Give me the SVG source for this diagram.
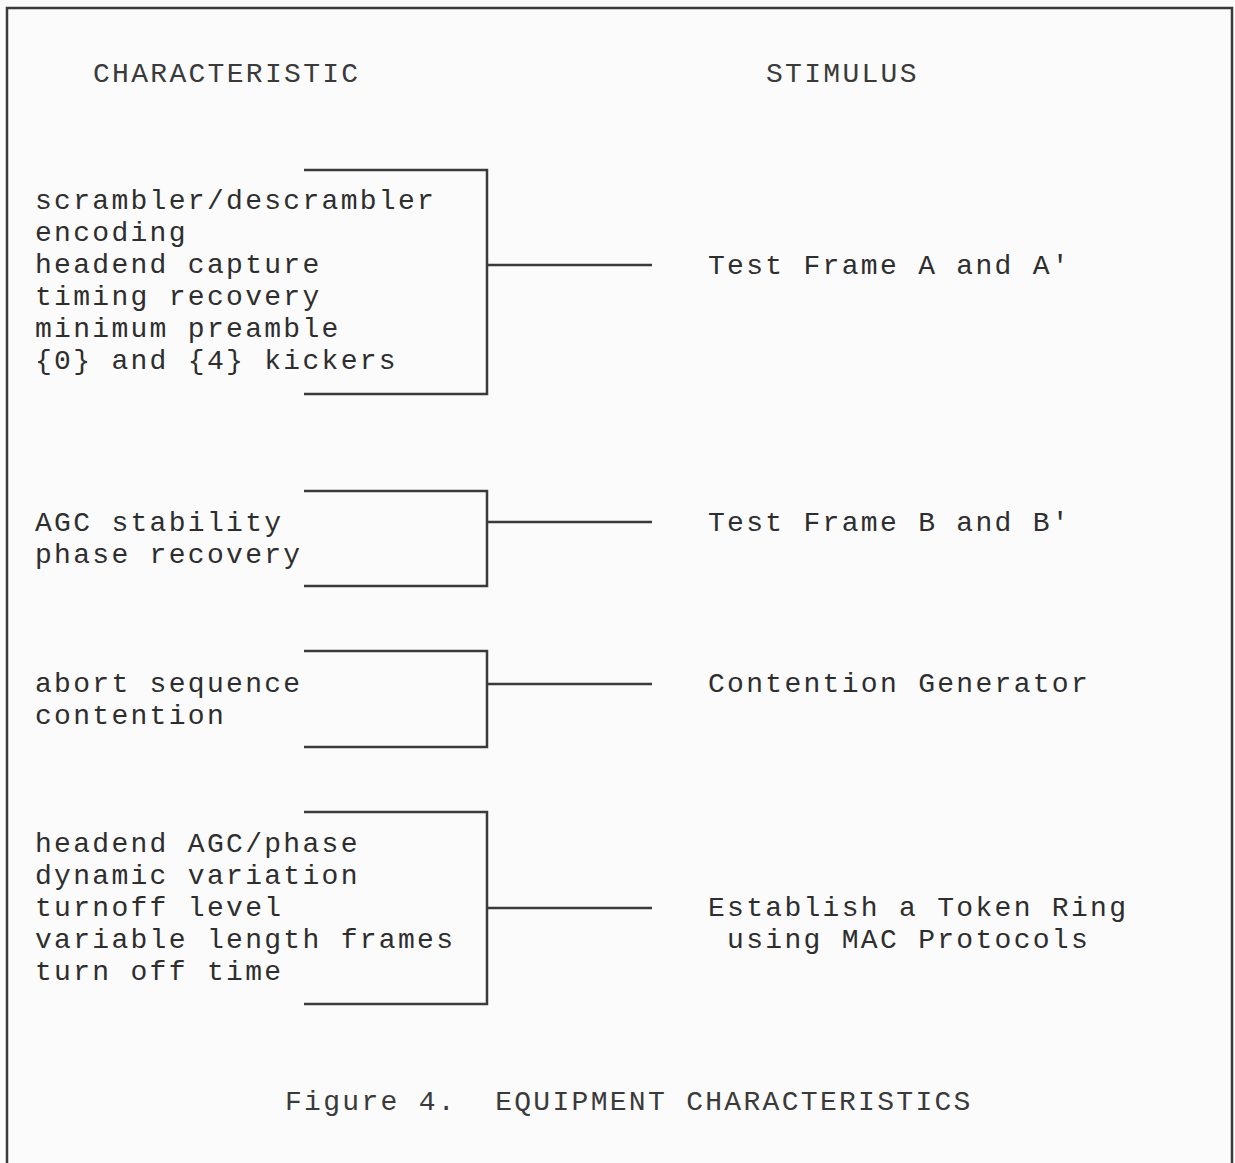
<svg xmlns="http://www.w3.org/2000/svg" width="1235" height="1163" viewBox="0 0 1235 1163">
<style>
text{font-family:"Liberation Mono","Courier New",monospace;font-size:28px;letter-spacing:2.3px;fill:#2e2e2e}
.h{fill:#3a3a3a}
.ln{stroke:#3a3a3a;stroke-width:2.5;fill:none}
</style>
<rect width="1235" height="1163" fill="#fbfbfb"/>
<g id="frame"><path class="ln" d="M7,1163 V8 H1232 V1163"/></g>
<g id="headers">
<text class="h" x="93" y="82">CHARACTERISTIC</text>
<text class="h" x="766" y="82">STIMULUS</text>
</g>
<g id="node1">
<path class="ln" d="M304,170 H487 V394 H304"/>
<text x="35" y="209">scrambler/descrambler</text>
<text x="35" y="241">encoding</text>
<text x="35" y="273">headend capture</text>
<text x="35" y="305">timing recovery</text>
<text x="35" y="337">minimum preamble</text>
<text x="35" y="369">{0} and {4} kickers</text>
</g>
<g id="node2">
<path class="ln" d="M304,491 H487 V586 H304"/>
<text x="35" y="531">AGC stability</text>
<text x="35" y="563">phase recovery</text>
</g>
<g id="node3">
<path class="ln" d="M304,651 H487 V747 H304"/>
<text x="35" y="692">abort sequence</text>
<text x="35" y="724">contention</text>
</g>
<g id="node4">
<path class="ln" d="M304,812 H487 V1004 H304"/>
<text x="35" y="852">headend AGC/phase</text>
<text x="35" y="884">dynamic variation</text>
<text x="35" y="916">turnoff level</text>
<text x="35" y="948">variable length frames</text>
<text x="35" y="980">turn off time</text>
</g>
<g id="stim1"><text x="708" y="274">Test Frame A and A'</text></g>
<g id="stim2"><text x="708" y="531">Test Frame B and B'</text></g>
<g id="stim3"><text x="708" y="692">Contention Generator</text></g>
<g id="stim4">
<text x="708" y="916">Establish a Token Ring</text>
<text x="708" y="948" xml:space="preserve"> using MAC Protocols</text>
</g>
<g id="connectors">
<line class="ln" x1="487" y1="265" x2="652" y2="265"/>
<line class="ln" x1="487" y1="522" x2="652" y2="522"/>
<line class="ln" x1="487" y1="684" x2="652" y2="684"/>
<line class="ln" x1="487" y1="908" x2="652" y2="908"/>
</g>
<g id="caption"><text class="h" x="285" y="1110" xml:space="preserve">Figure 4.  EQUIPMENT CHARACTERISTICS</text></g>
</svg>
